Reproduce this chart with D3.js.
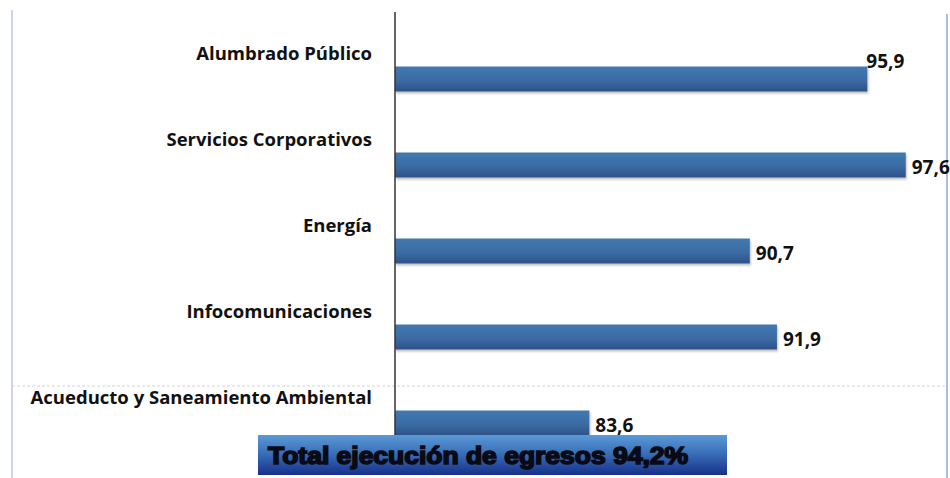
<!DOCTYPE html>
<html>
<head>
<meta charset="utf-8">
<script src="https://cdn.jsdelivr.net/npm/d3@7"></script>
<style>
  body { margin: 0; background: #fff; }
  svg { display: block; }
</style>
</head>
<body>
<svg width="950" height="478"></svg>
<script>
// datos
const categorias = [
  'Alumbrado Público',
  'Servicios Corporativos',
  'Energía',
  'Infocomunicaciones',
  'Acueducto y Saneamiento Ambiental'
];
const valores = [95.9, 97.6, 90.7, 91.9, 83.6];
const etiquetas = ['95,9', '97,6', '90,7', '91,9', '83,6'];
const totalTexto = 'Total ejecución de egresos 94,2%';

const svg = d3.select('svg');
const width = 950, height = 478;
const x0 = 395;

const defs = svg.append('defs');
const gBar = defs.append('linearGradient').attr('id', 'gBar')
  .attr('x1', 0).attr('y1', 0).attr('x2', 0).attr('y2', 1);
gBar.append('stop').attr('offset', '0%').attr('stop-color', '#4178b0');
gBar.append('stop').attr('offset', '55%').attr('stop-color', '#3b6ca4');
gBar.append('stop').attr('offset', '100%').attr('stop-color', '#2c5288');

const gTot = defs.append('linearGradient').attr('id', 'gTot')
  .attr('x1', 0).attr('y1', 0).attr('x2', 0).attr('y2', 1);
gTot.append('stop').attr('offset', '0%').attr('stop-color', '#5a9ad6');
gTot.append('stop').attr('offset', '45%').attr('stop-color', '#3a70b8');
gTot.append('stop').attr('offset', '100%').attr('stop-color', '#16308a');

const sombra = defs.append('filter').attr('id', 'sombra')
  .attr('x', '-5%').attr('y', '-30%').attr('width', '110%').attr('height', '170%');
sombra.append('feDropShadow').attr('dx', 1).attr('dy', 2).attr('stdDeviation', 1)
  .attr('flood-color', '#000').attr('flood-opacity', 0.25);

// marco
svg.append('line').attr('x1', 12).attr('x2', 12).attr('y1', 10).attr('y2', height)
  .attr('stroke', '#b8c8e6').attr('stroke-width', 1.5);
svg.append('line').attr('x1', 947).attr('x2', 947).attr('y1', 14).attr('y2', height)
  .attr('stroke', '#a9bde0').attr('stroke-width', 2);
svg.append('line').attr('x1', 12).attr('x2', 947).attr('y1', 386).attr('y2', 386)
  .attr('stroke', '#d8d0de').attr('stroke-width', 1).attr('stroke-dasharray', '3,2');

// escalas
const x = d3.scaleLinear().domain([75, 100]).range([x0, 960]);
const y = d3.scaleBand().domain(categorias).range([36, 466]);
const centro = c => y(c) + y.bandwidth() / 2;

// barras
const bh = 25;
svg.selectAll('rect.barra').data(valores).join('rect')
  .attr('class', 'barra')
  .attr('x', x0)
  .attr('y', (d, i) => centro(categorias[i]) - bh / 2)
  .attr('width', d => x(d) - x0)
  .attr('height', bh)
  .attr('fill', 'url(#gBar)')
  .attr('filter', 'url(#sombra)');

// eje
svg.append('line').attr('x1', x0).attr('x2', x0).attr('y1', 12).attr('y2', 436)
  .attr('stroke', '#333').attr('stroke-width', 1.5);

// etiquetas de categoria
svg.selectAll('text.cat').data(categorias).join('text')
  .attr('class', 'cat')
  .attr('x', 372)
  .attr('y', d => centro(d) - 19)
  .attr('text-anchor', 'end')
  .attr('font-family', '"Open Sans", Lato, sans-serif')
  .attr('font-weight', 'bold')
  .attr('font-size', 18.5)
  .attr('fill', '#111')
  .text(d => d);

// etiquetas de valor
svg.selectAll('text.val').data(valores).join('text')
  .attr('class', 'val')
  .attr('x', (d, i) => i === 0 ? x(d) - 1 : x(d) + 6)
  .attr('y', (d, i) => {
    const c = centro(categorias[i]);
    return i === 0 ? c - 11 : c + 9;
  })
  .attr('font-family', '"Open Sans", Lato, sans-serif')
  .attr('font-weight', 'bold')
  .attr('font-size', 19)
  .attr('fill', '#111')
  .text((d, i) => etiquetas[i]);

// total
svg.append('rect').attr('x', 258).attr('y', 435).attr('width', 469).attr('height', 40)
  .attr('fill', 'url(#gTot)');
svg.append('text').attr('x', 268).attr('y', 464)
  .attr('font-family', '"Liberation Sans", Arial, sans-serif')
  .attr('font-weight', 'bold')
  .attr('font-size', 23)
  .attr('fill', '#0a0a14')
  .attr('stroke', '#0a0a14').attr('stroke-width', 1.6)
  .attr('textLength', 420).attr('lengthAdjust', 'spacingAndGlyphs')
  .text(totalTexto);
</script>
</body>
</html>
